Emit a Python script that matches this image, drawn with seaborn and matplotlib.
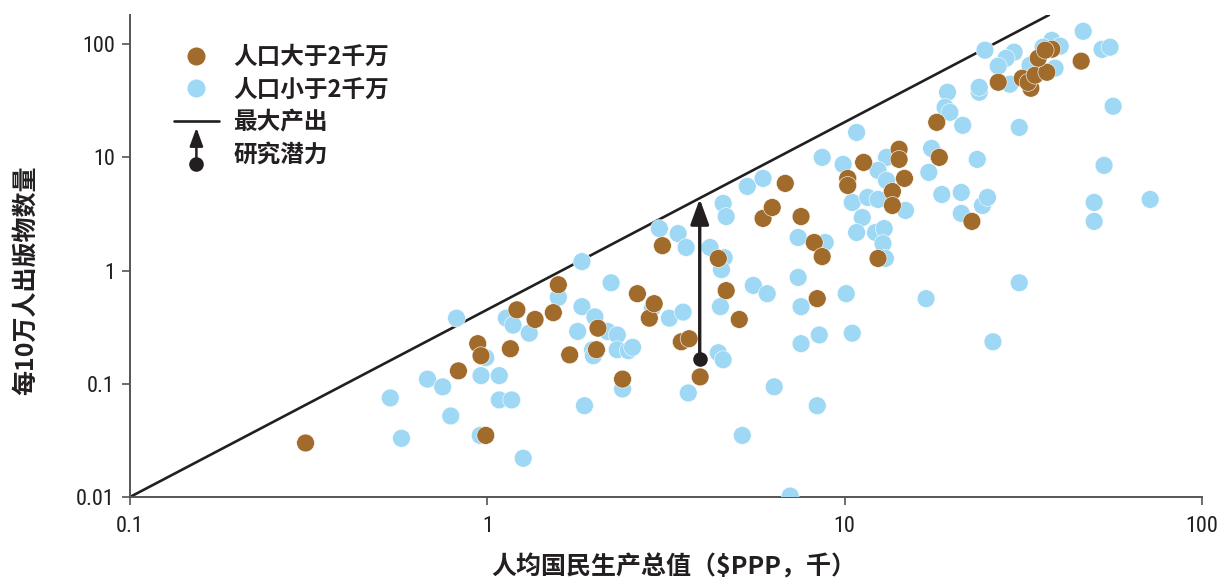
import os
import matplotlib
matplotlib.use("Agg")
import matplotlib.pyplot as plt
import matplotlib.patches as mpatches
from matplotlib.lines import Line2D
from matplotlib.legend_handler import HandlerBase
from matplotlib import font_manager as fm
import seaborn as sns
import pandas as pd

# ---- data ----
big_x = [0.31, 0.83, 0.94, 0.96, 0.99, 1.16, 1.21, 1.36, 1.53, 1.58, 1.70, 2.02, 2.04, 2.39, 2.63,
         2.84, 2.93, 3.09, 3.49, 3.67, 3.94, 4.43, 4.66, 5.07, 5.91, 6.27, 6.82, 7.55, 8.22, 8.65,
         8.38, 10.2, 10.2, 11.3, 12.4, 13.6, 13.6, 14.2, 14.2, 14.7, 18.1, 18.4, 22.7, 26.9, 31.4,
         33.2, 32.6, 34.1, 36.8, 34.8, 38.0, 45.9, 36.4]
big_y = [0.030, 0.130, 0.226, 0.177, 0.035, 0.204, 0.45, 0.37, 0.425, 0.75, 0.18, 0.20, 0.31, 0.11, 0.625,
         0.38, 0.51, 1.66, 0.235, 0.25, 0.115, 1.28, 0.665, 0.37, 2.89, 3.61, 5.89, 3.0, 1.77, 1.33,
         0.565, 6.52, 5.65, 9.03, 1.28, 5.0, 3.76, 11.8, 9.6, 6.52, 20.4, 10.0, 2.72, 46.1, 50,
         40.8, 46, 53.2, 56.5, 75.2, 90.3, 70.8, 88.5]

small_x = [0.535, 0.575, 0.68, 0.75, 0.79, 0.82, 0.955, 0.96, 0.99, 1.08, 1.08, 1.17, 1.26, 1.13, 1.18,
           1.31, 1.84, 2.22, 1.58, 1.84, 2.0, 1.79, 1.97, 1.98, 2.17, 2.31, 2.31, 2.48, 2.55, 2.39,
           1.87, 3.03, 3.42, 3.6, 2.9, 3.23, 3.53, 3.65, 4.2, 4.6, 4.52, 4.57, 4.66, 5.34, 5.91,
           4.49, 4.43, 4.57, 5.55, 6.07, 6.35, 5.17, 7.04, 7.41, 8.82, 7.41, 7.55, 8.49, 7.55, 8.38,
           10.8, 8.65, 9.9, 13.1, 12.4, 13.1, 14.8, 10.5, 11.6, 12.4, 11.2, 10.8, 12.2, 12.9, 12.8,
           13.0, 19.4, 23.8, 19.1, 19.7, 21.4, 17.5, 17.2, 23.5, 18.7, 21.2, 21.2, 24.3, 25.1, 10.1,
           16.9, 10.5, 30.8, 26.0, 46.5, 24.7, 29.8, 28.3, 26.9, 38.0, 40.1, 35.9, 38.8, 33.0, 29.0,
           52.5, 55.3, 56.4, 53.2, 49.9, 49.9, 71.6, 30.8, 23.8]
small_y = [0.075, 0.033, 0.11, 0.094, 0.052, 0.38, 0.035, 0.118, 0.17, 0.118, 0.072, 0.072, 0.022, 0.38, 0.33,
           0.28, 1.20, 0.78, 0.58, 0.48, 0.39, 0.29, 0.20, 0.177, 0.29, 0.27, 0.20, 0.196, 0.21, 0.09,
           0.064, 2.35, 2.12, 1.6, 0.47, 0.38, 0.43, 0.083, 1.6, 1.30, 1.02, 3.92, 3.0, 5.54, 6.52,
           0.48, 0.188, 0.163, 0.74, 0.625, 0.094, 0.035, 0.0102, 1.96, 1.77, 0.87, 0.48, 0.27, 0.226, 0.064,
           16.6, 10.0, 8.67, 10.0, 7.67, 6.25, 3.4, 4.0, 4.43, 4.25, 2.94, 2.17, 2.17, 2.35, 1.73,
           1.28, 37.6, 37.6, 27.7, 25.0, 19.2, 12.0, 7.37, 9.6, 4.7, 4.9, 3.2, 3.76, 4.43, 0.625,
           0.565, 0.28, 0.78, 0.235, 130, 88.5, 85, 75, 64, 108, 96, 94, 61.4, 65, 44.3,
           90, 94, 28.3, 8.5, 4.0, 2.72, 4.25, 18.4, 41.6]

frontier_x = [0.1, 37.3]
frontier_y = [0.01, 181]

arrow_x = 3.93
arrow_y_from = 0.165
arrow_y_to = 4.3

x_ticks = [0.1, 1, 10, 100]
x_tick_labels = ["0.1", "1", "10", "100"]
y_ticks = [0.01, 0.1, 1, 10, 100]
y_tick_labels = ["0.01", "0.1", "1", "10", "100"]

labels = ["人口大于2千万", "人口小于2千万", "最大产出", "研究潜力"]
x_label = "人均国民生产总值（$PPP，千）"
y_label = "每10万人出版物数量"

BROWN = "#A16B2B"
BLUE = "#9ED8F5"
DARK = "#231F20"


def narrow_font(size):
    """Find a condensed / narrow sans face for the tick numbers."""
    cands = []
    for f in fm.fontManager.ttflist:
        fn = os.path.basename(f.fname).lower()
        nm = f.name.lower()
        is_narrow = ("narrow" in fn or "condensed" in fn or "narrow" in nm or "condensed" in nm
                     or str(f.stretch) in ("condensed", "semi-condensed", "extra-condensed"))
        if not is_narrow:
            continue
        if "bold" in fn or "italic" in fn or "oblique" in fn or "light" in fn or "thin" in fn:
            continue
        score = 0
        if "liberation" in nm:
            score = 5
        elif "roboto" in nm:
            score = 4
        elif "open" in nm:
            score = 3
        elif "noto" in nm:
            score = 2
        elif "dejavu" in nm:
            score = 1
        cands.append((score, f.fname))
    if cands:
        cands.sort(reverse=True)
        return fm.FontProperties(fname=cands[0][1], size=size)
    return fm.FontProperties(family="Roboto", size=size - 1)


# ---- style ----
sns.set_style("ticks")
plt.rcParams["font.family"] = ["Noto Sans CJK SC", "DejaVu Sans"]

df = pd.concat([
    pd.DataFrame({"x": small_x, "y": small_y, "group": labels[1]}),
    pd.DataFrame({"x": big_x, "y": big_y, "group": labels[0]}),
], ignore_index=True)

fig = plt.figure(figsize=(12.17, 5.81), dpi=100)
ax = fig.add_axes([130 / 1217, 1 - 497 / 581, (1202 - 130) / 1217, (497 - 15) / 581])

ax.set_xscale("log")
ax.set_yscale("log")

sns.scatterplot(data=df, x="x", y="y", hue="group",
                palette={labels[0]: BROWN, labels[1]: BLUE},
                s=165, edgecolor="white", linewidth=0.4, alpha=1,
                legend=False, ax=ax, zorder=3)

sns.lineplot(x=frontier_x, y=frontier_y, color=DARK, lw=1.9, ax=ax, zorder=2)

ax.annotate("", xy=(arrow_x, arrow_y_to), xytext=(arrow_x, arrow_y_from),
            arrowprops=dict(arrowstyle="-|>,head_length=0.55,head_width=0.2", color=DARK, lw=2.4,
                            mutation_scale=28, shrinkA=0, shrinkB=0), zorder=5)
ax.scatter([arrow_x], [arrow_y_from], s=110, color=DARK, zorder=6, linewidths=0)

ax.set_xlim(0.1, 100)
ax.set_ylim(0.01, 181)

tick_fp = narrow_font(16)
ax.set_xticks(x_ticks)
ax.set_xticklabels(x_tick_labels, fontproperties=tick_fp, color=DARK)
ax.set_yticks(y_ticks)
ax.set_yticklabels(y_tick_labels, fontproperties=tick_fp, color=DARK)
ax.minorticks_off()
ax.tick_params(axis="both", direction="out", length=6, width=1.2, color="#555555")
ax.tick_params(axis="x", pad=8)
ax.tick_params(axis="y", pad=5)

for side in ["top", "right"]:
    ax.spines[side].set_visible(False)
for side in ["left", "bottom"]:
    ax.spines[side].set_color("#555555")
    ax.spines[side].set_linewidth(1.4)

ax.set_xlabel(x_label, fontsize=18, fontweight="bold", color=DARK)
ax.xaxis.set_label_coords(0.507, -0.118)
ax.set_ylabel(y_label, fontsize=18, fontweight="bold", color=DARK)
ax.yaxis.set_label_coords(-0.086, 0.45)


class ArrowDotHandle:
    pass


class HandlerArrowDot(HandlerBase):
    def create_artists(self, legend, orig_handle, xdescent, ydescent, width, height, fontsize, trans):
        cx = width / 2 - xdescent
        y0 = -height * 0.12
        y1 = height * 2.05
        arr = mpatches.FancyArrowPatch((cx, y0), (cx, y1),
                                       arrowstyle="-|>,head_length=0.55,head_width=0.2",
                                       mutation_scale=20, color=DARK, lw=1.8, shrinkA=0, shrinkB=0,
                                       transform=trans)
        dot = Line2D([cx], [y0], marker="o", markersize=9.5, color=DARK, lw=0, transform=trans)
        return [arr, dot]


handles = [
    Line2D([], [], marker="o", lw=0, markersize=13, markerfacecolor=BROWN, markeredgecolor="none"),
    Line2D([], [], marker="o", lw=0, markersize=13, markerfacecolor=BLUE, markeredgecolor="none"),
    Line2D([], [], color=DARK, lw=1.9),
    ArrowDotHandle(),
]
leg = ax.legend(handles, labels, handler_map={ArrowDotHandle: HandlerArrowDot()},
                loc="upper left", bbox_to_anchor=(0.030, 0.962), frameon=False,
                borderpad=0, handlelength=1.9, handletextpad=0.6, labelspacing=0.36,
                prop={"size": 17, "weight": "bold"})
for t in leg.get_texts():
    t.set_color(DARK)

fig.savefig("out.png", dpi=100)
